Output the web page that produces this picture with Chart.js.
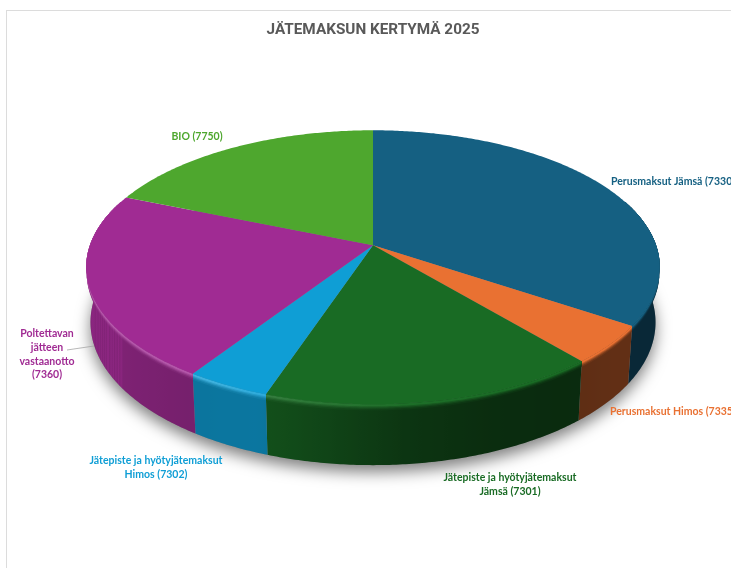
<!DOCTYPE html>
<html lang="fi">
<head>
<meta charset="utf-8">
<title>Jätemaksun kertymä 2025</title>
<script src="https://cdn.jsdelivr.net/npm/chart.js@4"></script>
<style>
    html, body { margin: 0; padding: 0; background: #fff; overflow: hidden; }
    #frame { position: absolute; left: 6px; top: 10px; right: 0; bottom: 0; border-left: 1px solid #dcdcdc; border-top: 1px solid #dcdcdc; }
    #pie { position: absolute; left: 0; top: 0; }
</style>
</head>
<body>
<div id="frame"></div>
<canvas id="pie" width="731" height="568"></canvas>
<script>
// values (share of the total, %)
const categories = [
    ["Perusmaksut Jämsä (7330)"],
    ["Perusmaksut Himos (7335)"],
    ["Jätepiste ja hyötyjätemaksut", "Jämsä (7301)"],
    ["Jätepiste ja hyötyjätemaksut", "Himos (7302)"],
    ["Poltettavan", "jätteen", "vastaanotto", "(7360)"],
    ["BIO (7750)"]
];
const shares = [34.3, 4.5, 16.4, 4.1, 21.9, 18.8];
const sliceColors = ["#156082", "#e97132", "#196b24", "#0f9ed5", "#a02b93", "#4ea72e"];
const chartTitle = "JÄTEMAKSUN KERTYMÄ 2025";

// where each label sits: x, y of first line, canvas text align
const labelSpots = [
    [611, 182, "left"],
    [610, 412, "left"],
    [510, 478, "center"],
    [156, 461, "center"],
    [47, 334, "center"],
    [197, 137, "center"]
];
const LABEL_LINE = 13.7;

// tilted view, as ratios of the radius chart.js gives the pie
const VIEW_X = 1.092;
const VIEW_Y = 0.5147;
const VIEW_SHIFT = -0.245;
const VIEW_K = 0.1606;
const WALL = 0.208;
const WALL_FRONT = 0.027;
// lit edge under the top face: from, to (share of wall height), strength
const RIM_BANDS = [[0, 1, 0], [0, .1, .12], [0, .075, .35], [0, .055, .65], [0, .035, 1]];

// wall brightness by canvas angle in degrees (0 = right, 90 = front, 180 = left)
const wallShade = [[-20, .42], [40, .42], [55, .40], [70, .42], [85, .5], [100, .66], [110, .75], [125, .74], [140, .78], [170, .86], [200, .88]];
const rimLight = [[-20, 0], [60, 0], [85, .02], [105, .1], [120, .2], [200, .22]];

function lookup(table, deg) {
    if (deg <= table[0][0]) return table[0][1];
    for (let i = 1; i < table.length; i++) {
        if (deg <= table[i][0]) {
            const t = (deg - table[i - 1][0]) / (table[i][0] - table[i - 1][0]);
            return table[i - 1][1] + (table[i][1] - table[i - 1][1]) * t;
        }
    }
    return table[table.length - 1][1];
}

function rgb(hex) {
    const n = parseInt(hex.slice(1), 16);
    return [n >> 16, (n >> 8) & 255, n & 255];
}

function css(c) {
    return `rgb(${Math.round(c[0])},${Math.round(c[1])},${Math.round(c[2])})`;
}

// angle on the pie -> point on the page
function project(el, angle, down) {
    const u = Math.cos(angle), v = Math.sin(angle);
    const w = 1 / (1 - VIEW_K * v);
    const R = el.outerRadius;
    const shrink = 1 - 0.015 * down;
    return {
        x: el.x + R * VIEW_X * u * w * shrink,
        y: el.y + R * VIEW_SHIFT + R * VIEW_Y * v * w + down * R * (WALL + WALL_FRONT * v)
    };
}

function traceArc(ctx, el, from, to, down, first) {
    const steps = Math.max(2, Math.ceil(Math.abs(to - from) / 0.01));
    for (let i = 0; i <= steps; i++) {
        const p = project(el, from + (to - from) * i / steps, down);
        if (i === 0 && first) ctx.moveTo(p.x, p.y);
        else ctx.lineTo(p.x, p.y);
    }
}

function drawShadow(ctx, el) {
    ctx.save();
    ctx.shadowColor = "rgba(0,0,0,0.5)";
    ctx.shadowBlur = 15;
    ctx.shadowOffsetY = 7;
    ctx.fillStyle = "#888";
    ctx.beginPath();
    traceArc(ctx, el, 0, Math.PI * 2, 1, true);
    ctx.closePath();
    ctx.fill();
    ctx.restore();
}

// one polygon per band, colour runs left to right along the arc so no seams
function drawWall(ctx, el) {
    const base = rgb(el.options.backgroundColor);
    const from = Math.max(el.startAngle, -0.35);
    const to = Math.min(el.endAngle, Math.PI + 0.35);
    if (to <= from) return;
    const steps = Math.ceil((to - from) / 0.02);
    const xs = [];
    for (let i = 0; i <= steps; i++) xs.push(project(el, from + (to - from) * i / steps, 0).x);
    const minX = Math.min(...xs), maxX = Math.max(...xs);

    RIM_BANDS.forEach(([d0, d1, mix]) => {
        const g = ctx.createLinearGradient(minX, 0, maxX, 0);
        xs.forEach((x, i) => {
            const deg = (from + (to - from) * i / steps) * 180 / Math.PI;
            const shade = lookup(wallShade, deg);
            const light = lookup(rimLight, deg);
            g.addColorStop((x - minX) / (maxX - minX), css(base.map(c => {
                const wall = c * shade;
                const rim = c + (255 - c) * light;
                return wall + (rim - wall) * mix;
            })));
        });
        ctx.fillStyle = g;
        ctx.beginPath();
        traceArc(ctx, el, from, to, d0, true);
        traceArc(ctx, el, to, from, d1, false);
        ctx.closePath();
        ctx.fill();
    });
}

function drawTop(ctx, el) {
    ctx.fillStyle = el.options.backgroundColor;
    ctx.beginPath();
    ctx.moveTo(el.x, el.y + el.outerRadius * VIEW_SHIFT);
    traceArc(ctx, el, el.startAngle, el.endAngle, 0, false);
    ctx.closePath();
    ctx.fill();
}

function drawLabels(ctx) {
    ctx.save();
    ctx.strokeStyle = "#a6a6a6";
    ctx.lineWidth = 0.8;
    ctx.beginPath();
    ctx.moveTo(67, 350);
    ctx.lineTo(94, 346);
    ctx.stroke();
    ctx.font = "bold 10.5px Lato";
    ctx.textBaseline = "middle";
    categories.forEach((lines, i) => {
        const [x, y, align] = labelSpots[i];
        ctx.fillStyle = sliceColors[i];
        ctx.textAlign = align;
        lines.forEach((line, n) => ctx.fillText(line, x, y + n * LABEL_LINE));
    });
    ctx.restore();
}

// chart.js works out the slices, this only paints them in the tilted view
const tiltedPie = {
    id: "tiltedPie",
    beforeDatasetsDraw(chart) {
        const ctx = chart.ctx;
        const arcs = chart.getDatasetMeta(0).data;
        drawShadow(ctx, arcs[0]);
        arcs.forEach(el => drawWall(ctx, el));
        arcs.forEach(el => drawTop(ctx, el));
        drawLabels(ctx);
        return false;
    }
};

new Chart(document.getElementById("pie"), {
    type: "pie",
    data: {
        labels: categories,
        datasets: [{
            data: shares,
            backgroundColor: sliceColors,
            borderWidth: 0
        }]
    },
    options: {
        responsive: false,
        animation: false,
        devicePixelRatio: 1,
        layout: { padding: { left: 15 } },
        plugins: {
            legend: { display: false },
            tooltip: { enabled: false },
            title: {
                display: true,
                text: chartTitle,
                color: "#595959",
                font: { family: "Roboto", size: 15.3, weight: "bold" },
                padding: { top: 21, bottom: 10.18 }
            }
        }
    },
    plugins: [tiltedPie]
});
</script>
</body>
</html>
